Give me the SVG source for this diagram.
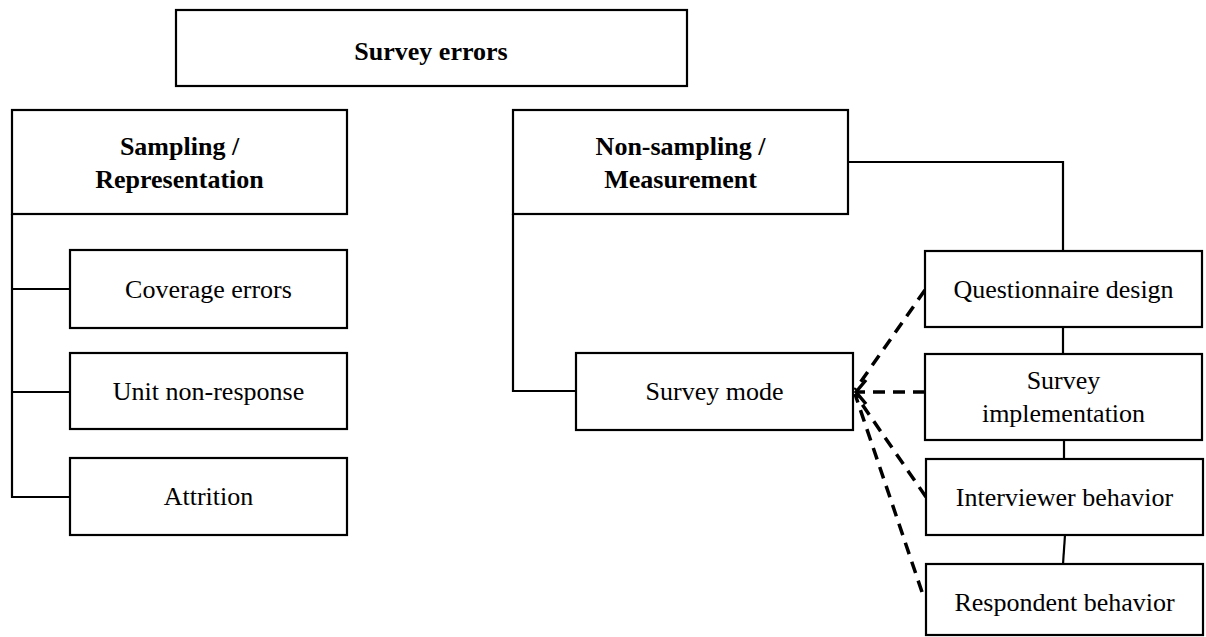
<svg xmlns="http://www.w3.org/2000/svg" width="1206" height="637" viewBox="0 0 1206 637">
  <style>
    .box { fill: #fff; stroke: #000; stroke-width: 2.2; }
    .t { font-family: "Liberation Serif", "Times New Roman", serif; font-size: 26px; fill: #000; text-anchor: middle; }
    .b { font-weight: bold; }
    .ln { fill: none; stroke: #000; stroke-width: 2.2; }
    .dash { fill: none; stroke: #000; stroke-width: 3.5; stroke-dasharray: 12 8; }
  </style>
  <defs>
    <marker id="arr" viewBox="-16 -16 18 32" refX="0" refY="0" markerWidth="18" markerHeight="32" markerUnits="userSpaceOnUse" orient="auto">
      <path d="M-10,-12 L0,0 L-10,12" fill="none" stroke="#000" stroke-width="3.5" stroke-dasharray="none" stroke-linejoin="miter"/>
    </marker>
  </defs>
  <rect width="1206" height="637" fill="#fff"/>

  <g id="connectors">
    <polyline class="ln" points="12,214 12,497 70,497"/>
    <line class="ln" x1="12" y1="289" x2="70" y2="289"/>
    <line class="ln" x1="12" y1="392" x2="70" y2="392"/>
    <polyline class="ln" points="513,214 513,391 576,391"/>
    <polyline class="ln" points="848,162 1063,162 1063,251"/>
    <line class="ln" x1="1063" y1="327" x2="1063" y2="354"/>
    <line class="ln" x1="1064" y1="440" x2="1064" y2="459"/>
    <line class="ln" x1="1065" y1="535" x2="1063" y2="564"/>
    <line class="dash" x1="925" y1="290" x2="855" y2="390"/>
    <line class="dash" x1="925" y1="392" x2="856" y2="392" marker-end="url(#arr)"/>
    <line class="dash" x1="926" y1="497" x2="855" y2="394"/>
    <line class="dash" x1="922" y1="592" x2="855" y2="394"/>
  </g>

  <g id="survey-errors">
    <rect class="box" x="176" y="10" width="511" height="76"/>
    <text class="t b" x="431" y="60">Survey errors</text>
  </g>
  <g id="sampling">
    <rect class="box" x="12" y="110" width="335" height="104"/>
    <text class="t b" x="179.5" y="155">Sampling /</text>
    <text class="t b" x="179.5" y="188">Representation</text>
  </g>
  <g id="coverage">
    <rect class="box" x="70" y="250" width="277" height="78"/>
    <text class="t" x="208.5" y="298">Coverage errors</text>
  </g>
  <g id="unit-nonresponse">
    <rect class="box" x="70" y="353" width="277" height="76"/>
    <text class="t" x="208.5" y="400">Unit non-response</text>
  </g>
  <g id="attrition">
    <rect class="box" x="70" y="458" width="277" height="77"/>
    <text class="t" x="208.5" y="505">Attrition</text>
  </g>
  <g id="non-sampling">
    <rect class="box" x="513" y="110" width="335" height="104"/>
    <text class="t b" x="680.5" y="155">Non-sampling /</text>
    <text class="t b" x="680.5" y="188">Measurement</text>
  </g>
  <g id="survey-mode">
    <rect class="box" x="576" y="353" width="277" height="77"/>
    <text class="t" x="714.5" y="400">Survey mode</text>
  </g>
  <g id="questionnaire">
    <rect class="box" x="925" y="251" width="277" height="76"/>
    <text class="t" x="1063.5" y="298">Questionnaire design</text>
  </g>
  <g id="implementation">
    <rect class="box" x="925" y="354" width="277" height="86"/>
    <text class="t" x="1063.5" y="389">Survey</text>
    <text class="t" x="1063.5" y="422">implementation</text>
  </g>
  <g id="interviewer">
    <rect class="box" x="926" y="459" width="277" height="76"/>
    <text class="t" x="1064.5" y="506">Interviewer behavior</text>
  </g>
  <g id="respondent">
    <rect class="box" x="926" y="564" width="277" height="71"/>
    <text class="t" x="1064.5" y="611">Respondent behavior</text>
  </g>
</svg>
